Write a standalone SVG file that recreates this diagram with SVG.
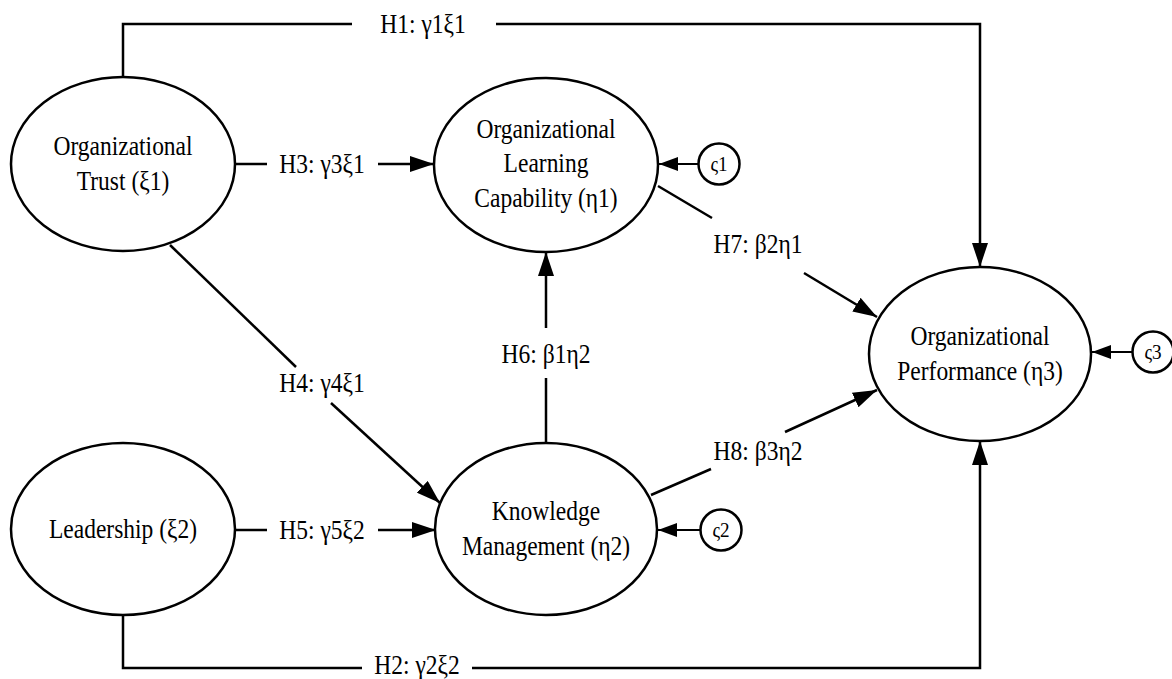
<svg xmlns="http://www.w3.org/2000/svg" width="1172" height="679" viewBox="0 0 1172 679">
<style>
.n ellipse, .n circle { fill: #fff; stroke: #000; stroke-width: 2.5; }
.t { font-family: 'Liberation Serif', 'Times New Roman', Times, 'DejaVu Serif', serif; font-size: 27px; fill: #000; text-anchor: middle; }
.s { font-family: 'Liberation Serif', 'Times New Roman', Times, 'DejaVu Serif', serif; font-size: 22px; fill: #000; text-anchor: middle; }
.c path { fill: none; stroke: #000; stroke-width: 2.5; }
.c path.e { stroke-width: 2; }
</style>
<defs>
<marker id="a" markerUnits="userSpaceOnUse" markerWidth="24" markerHeight="16" refX="24" refY="8" orient="auto">
<path d="M0,0 L24,8 L0,16 z" fill="#000"/>
</marker>
<marker id="b" markerUnits="userSpaceOnUse" markerWidth="19" markerHeight="14" refX="19" refY="7" orient="auto">
<path d="M0,0 L19,7 L0,14 z" fill="#000"/>
</marker>
</defs>
<rect width="1172" height="679" fill="#fff"/>
<g id="connectors" class="c">
<path d="M123,77 V24 H352"/>
<path d="M496,24 H980 V267" marker-end="url(#a)"/>
<path d="M123,615 V668 H362"/>
<path d="M472,668 H980 V441" marker-end="url(#a)"/>
<path d="M235,164 H267"/>
<path d="M378,164 H434" marker-end="url(#a)"/>
<path d="M235,530 H267"/>
<path d="M378,530 H436" marker-end="url(#a)"/>
<path d="M170,245 L296,367"/>
<path d="M331,403 L440,503" marker-end="url(#a)"/>
<path d="M546,443 V378"/>
<path d="M546,328 V252" marker-end="url(#a)"/>
<path d="M658,186 L712,218"/>
<path d="M804,273 L877,317" marker-end="url(#a)"/>
<path d="M651,495 L711,469"/>
<path d="M785,432 L877,390" marker-end="url(#a)"/>
<path class="e" d="M698,164 H659" marker-end="url(#b)"/>
<path class="e" d="M700,530 H658" marker-end="url(#b)"/>
<path class="e" d="M1133,352 H1092" marker-end="url(#b)"/>
<text class="t" transform="translate(423 33) scale(0.87 1)">H1: γ1ξ1</text>
<text class="t" transform="translate(417 674) scale(0.87 1)">H2: γ2ξ2</text>
<text class="t" transform="translate(322 173) scale(0.87 1)">H3: γ3ξ1</text>
<text class="t" transform="translate(322 392) scale(0.87 1)">H4: γ4ξ1</text>
<text class="t" transform="translate(322 539) scale(0.87 1)">H5: γ5ξ2</text>
<text class="t" transform="translate(546 363) scale(0.87 1)">H6: β1η2</text>
<text class="t" transform="translate(758 253) scale(0.87 1)">H7: β2η1</text>
<text class="t" transform="translate(758 460) scale(0.87 1)">H8: β3η2</text>
</g>
<g id="trust" class="n">
<ellipse cx="123" cy="164" rx="112" ry="87"/>
<text class="t" transform="translate(123 155) scale(0.87 1)"><tspan x="0">Organizational</tspan><tspan x="0" dy="35">Trust (ξ1)</tspan></text>
</g>
<g id="leadership" class="n">
<ellipse cx="123" cy="529" rx="112" ry="86"/>
<text class="t" transform="translate(123 538) scale(0.87 1)">Leadership (ξ2)</text>
</g>
<g id="olc" class="n">
<ellipse cx="546" cy="165" rx="112" ry="87"/>
<text class="t" transform="translate(546 138) scale(0.87 1)"><tspan x="0">Organizational</tspan><tspan x="0" dy="34.5">Learning</tspan><tspan x="0" dy="34.5">Capability (η1)</tspan></text>
</g>
<g id="km" class="n">
<ellipse cx="546" cy="529" rx="111" ry="86"/>
<text class="t" transform="translate(546 520) scale(0.87 1)"><tspan x="0">Knowledge</tspan><tspan x="0" dy="35">Management (η2)</tspan></text>
</g>
<g id="performance" class="n">
<ellipse cx="980" cy="354" rx="111" ry="87"/>
<text class="t" transform="translate(980 345) scale(0.87 1)"><tspan x="0">Organizational</tspan><tspan x="0" dy="35">Performance (η3)</tspan></text>
</g>
<g id="z1" class="n">
<circle cx="719" cy="164" r="20.5"/>
<text class="s" transform="translate(719 171) scale(0.87 1)">ς1</text>
</g>
<g id="z2" class="n">
<circle cx="721" cy="530" r="20.5"/>
<text class="s" transform="translate(721 537) scale(0.87 1)">ς2</text>
</g>
<g id="z3" class="n">
<circle cx="1153" cy="352" r="20.5"/>
<text class="s" transform="translate(1153 359) scale(0.87 1)">ς3</text>
</g>
</svg>
